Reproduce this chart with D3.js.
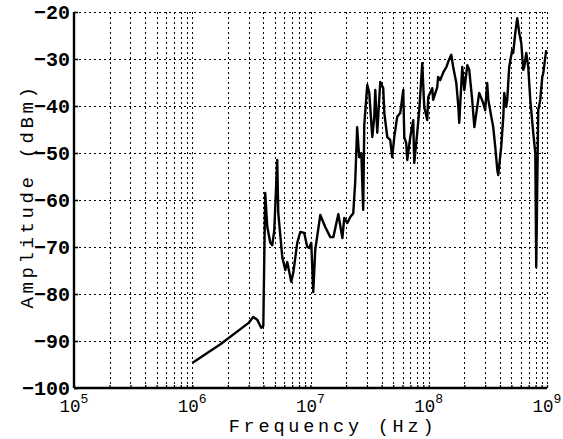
<!DOCTYPE html>
<html>
<head>
<meta charset="utf-8">
<script src="https://cdn.jsdelivr.net/npm/d3@7"></script>
<style>
  html, body { margin: 0; padding: 0; background: #fff; }
  svg { display: block; }
  text { font-family: "Liberation Mono", "DejaVu Sans Mono", monospace; fill: #000; }
</style>
</head>
<body>
<svg id="chart" width="563" height="439"></svg>
<script>
// ---- Data ----
const freqHz = [
  1.00e6, 1.73e6, 2.98e6, 3.28e6, 3.55e6, 3.83e6, 3.99e6, 4.14e6, 4.31e6, 4.57e6,
  4.75e6, 4.94e6, 5.23e6, 5.34e6, 5.77e6, 6.12e6, 6.36e6, 6.87e6, 7.15e6, 7.73e6,
  8.19e6, 8.85e6, 9.39e6, 9.76e6, 1.015e7, 1.055e7, 1.097e7, 1.21e7, 1.33e7, 1.47e7,
  1.56e7, 1.72e7, 1.86e7, 1.93e7, 2.05e7, 2.17e7, 2.30e7, 2.39e7, 2.48e7, 2.58e7,
  2.69e7, 2.79e7, 2.85e7, 3.02e7, 3.14e7, 3.33e7, 3.46e7, 3.53e7, 3.67e7, 3.89e7,
  4.12e7, 4.21e7, 4.46e7, 4.72e7, 4.91e7, 5.11e7, 5.41e7, 5.74e7, 6.09e7, 6.21e7,
  6.45e7, 6.58e7, 6.98e7, 7.39e7, 7.54e7, 7.99e7, 8.31e7, 8.81e7, 9.16e7, 9.71e7,
  9.90e7, 1.07e8, 1.09e8, 1.18e8, 1.20e8, 1.25e8, 1.33e8, 1.41e8, 1.46e8, 1.55e8,
  1.61e8, 1.71e8, 1.78e8, 1.81e8, 1.92e8, 2.00e8, 2.12e8, 2.20e8, 2.33e8, 2.43e8,
  2.57e8, 2.67e8, 2.89e8, 3.00e8, 3.12e8, 3.19e8, 3.38e8, 3.51e8, 3.65e8, 3.80e8,
  3.87e8, 4.10e8, 4.27e8, 4.35e8, 4.52e8, 4.61e8, 4.79e8, 5.08e8, 5.18e8, 5.39e8,
  5.60e8, 5.83e8, 6.06e8, 6.30e8, 6.42e8, 6.68e8, 6.94e8, 7.22e8, 7.65e8, 7.96e8,
  8.11e8, 8.27e8, 8.43e8, 8.77e8, 9.12e8, 9.30e8, 9.85e8
];
const amplitudeDbm = [
  -94.7, -90.7, -86.2, -84.9, -85.5, -87.2, -86.8, -58.5, -65.7, -69.1,
  -69.6, -66.4, -51.5, -62.8, -72.1, -74.9, -73.2, -77.4, -75.5, -69.1,
  -66.8, -67.0, -70.0, -70.2, -69.1, -79.6, -70.6, -63.2, -65.7, -67.9,
  -67.9, -63.0, -68.1, -63.8, -64.9, -63.6, -62.8, -56.0, -44.5, -50.9,
  -50.0, -62.1, -44.0, -35.5, -37.2, -46.6, -42.3, -36.6, -45.7, -34.9,
  -36.2, -41.5, -46.6, -47.2, -50.9, -46.6, -42.3, -41.5, -36.6, -46.6,
  -47.9, -51.5, -46.6, -43.0, -52.1, -45.7, -40.9, -30.9, -40.2, -43.0,
  -38.1, -36.2, -38.7, -36.0, -33.8, -34.5, -32.8, -31.7, -30.6, -29.1,
  -31.7, -35.1, -40.2, -43.6, -31.7, -36.6, -31.3, -32.3, -38.7, -44.5,
  -40.2, -37.2, -39.4, -40.9, -35.1, -38.7, -42.3, -44.5, -48.7, -53.6,
  -54.7, -48.7, -42.3, -37.2, -40.2, -38.7, -31.7, -28.1, -28.7, -24.5,
  -21.3, -24.5, -26.6, -32.3, -31.7, -28.7, -31.7, -38.7, -45.7, -50.0,
  -74.3, -57.2, -40.9, -38.7, -33.8, -33.0, -28.1
];
const yTicks = [-100, -90, -80, -70, -60, -50, -40, -30, -20];
const xDecadeExponents = [5, 6, 7, 8, 9];
const xLabel = "Frequency  (Hz)";
const yLabel = "Amplitude  (dBm)";

(function () {
// ---- Layout ----
const svg = d3.select("#chart");
const mLeft = 74, mRight = 547, mTop = 12, mBottom = 388;

const x = d3.scaleLog().domain([1e5, 1e9]).range([mLeft, mRight]);
const y = d3.scaleLinear().domain([-100, -20]).range([mBottom, mTop]);

// frequency grid positions (1..9 per decade)
const gridFreqs = [];
xDecadeExponents.slice(0, -1).forEach(e => {
  for (let m = 1; m <= 9; m++) gridFreqs.push(m * Math.pow(10, e));
});
gridFreqs.push(1e9);

// ---- Grid ----
const grid = svg.append("g").attr("class", "grid").attr("shape-rendering", "crispEdges");
grid.selectAll("line.v").data(gridFreqs.filter(f => f > 1e5)).enter().append("line")
  .attr("class", "v")
  .attr("x1", d => Math.round(x(d)) + 0.5).attr("x2", d => Math.round(x(d)) + 0.5)
  .attr("y1", mTop).attr("y2", mBottom)
  .attr("stroke", "#000").attr("stroke-width", 1.6)
  .attr("stroke-dasharray", "2,3");
grid.selectAll("line.h").data(yTicks.filter(v => v > -100)).enter().append("line")
  .attr("class", "h")
  .attr("x1", mLeft).attr("x2", mRight)
  .attr("y1", d => Math.round(y(d)) + 0.5).attr("y2", d => Math.round(y(d)) + 0.5)
  .attr("stroke", "#000").attr("stroke-width", 1.6)
  .attr("stroke-dasharray", "2,3");

// ---- Axes ----
const yAxis = svg.append("g")
  .attr("transform", `translate(${mLeft},0)`)
  .call(d3.axisLeft(y).tickValues(yTicks).tickSize(-4).tickPadding(8).tickFormat(d3.format("d")));
yAxis.select(".domain").attr("stroke-width", 2.4).attr("d", `M0,${mTop}V${mBottom}`);
yAxis.selectAll(".tick line").attr("stroke-width", 1.6);
yAxis.selectAll(".tick text")
  .style("font-family", '"Liberation Mono", monospace')
  .style("font-size", "20px")
  .style("font-weight", "bold")
  .attr("x", -4).attr("dy", "0.32em");

const xAxis = svg.append("g")
  .attr("transform", `translate(0,${mBottom})`)
  .call(d3.axisBottom(x).tickValues(gridFreqs).tickSize(-3).tickFormat(""));
xAxis.select(".domain").attr("stroke-width", 2.4).attr("d", `M${mLeft},0H${mRight}`);
xAxis.selectAll(".tick line").attr("stroke-width", 1.3);
xAxis.selectAll(".tick text").remove();

// decade labels with superscript exponents
const xl = svg.append("g");
xDecadeExponents.forEach(e => {
  const t = xl.append("text")
    .attr("x", x(Math.pow(10, e)))
    .attr("y", mBottom + 24)
    .attr("text-anchor", "middle")
    .style("font-size", "17.5px");
  t.append("tspan").text("10");
  t.append("tspan").attr("dy", -9).style("font-size", "13px").text(String(e));
});

// axis titles
svg.append("text")
  .attr("x", 333).attr("y", 432)
  .attr("text-anchor", "middle")
  .style("font-size", "18.5px")
  .style("letter-spacing", "3.8px")
  .text(xLabel);
svg.append("text")
  .attr("transform", `translate(33,196) rotate(-90)`)
  .attr("text-anchor", "middle")
  .style("font-size", "19px")
  .style("letter-spacing", "3.6px")
  .text(yLabel);

// ---- Data line ----
const pts = freqHz.map((f, i) => [f, amplitudeDbm[i]]);
svg.append("path")
  .datum(pts)
  .attr("fill", "none")
  .attr("stroke", "#000")
  .attr("stroke-width", 2.4)
  .attr("stroke-linejoin", "round")
  .attr("d", d3.line().x(d => x(d[0])).y(d => y(d[1])));
})();
</script>
</body>
</html>
